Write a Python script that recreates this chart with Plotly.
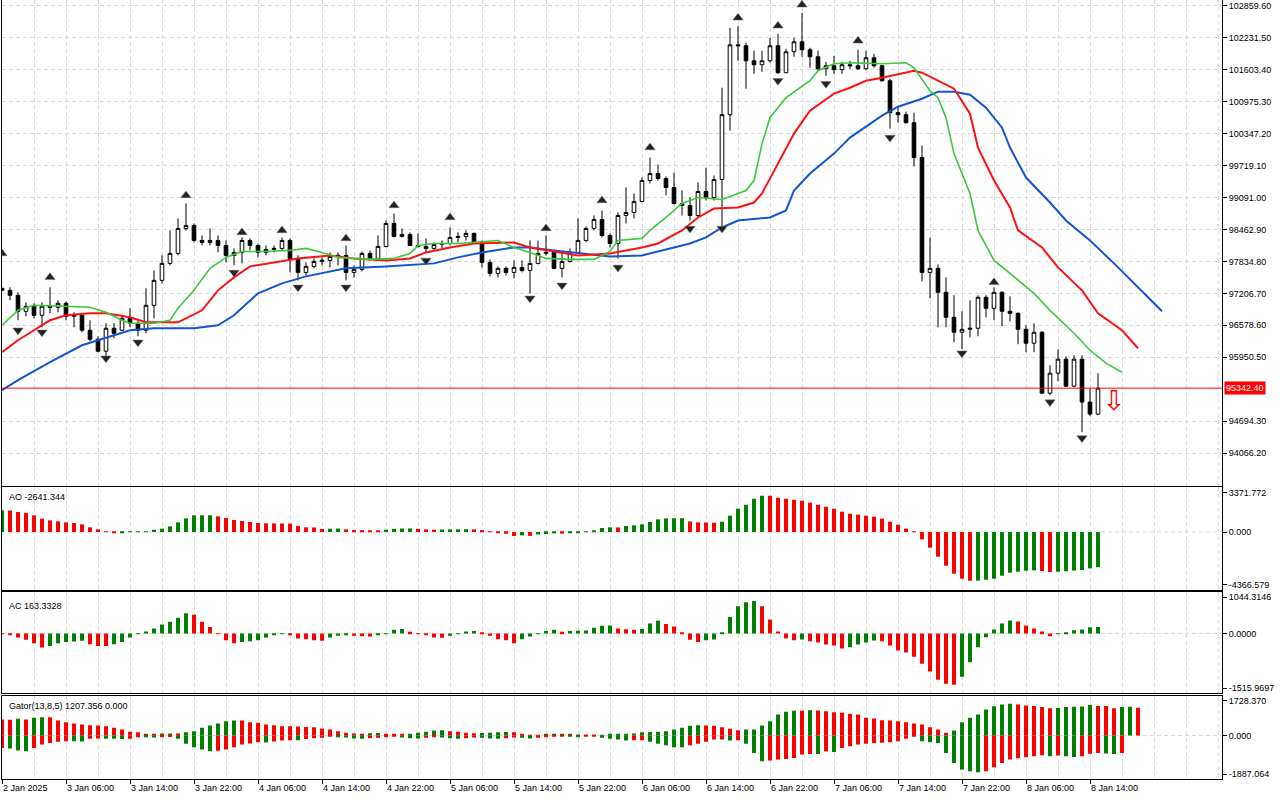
import plotly.graph_objects as go

# hourly candles, first bar = 2 Jan 22:00, last bar = 8 Jan 15:00
opens = [97305, 97266, 97168, 96854, 96952, 96775, 96952, 96932, 97011, 96756,
         96775, 96481, 96304, 96069, 96520, 96481, 96716, 96618, 96481, 96972,
         97462, 97796, 97992, 98483, 98542, 98247, 98208, 98247, 98149, 97953,
         98012, 98247, 98149, 98012, 98071, 98090, 98247, 97894, 97619, 97737,
         97835, 97855, 97933, 97953, 97619, 97678, 97992, 97894, 98129, 98581,
         98326, 98365, 98149, 98129, 98090, 98169, 98188, 98306, 98326, 98385,
         98208, 97815, 97600, 97698, 97619, 97717, 97658, 97796, 97992, 98012,
         97698, 97835, 98012, 98247, 98483, 98659, 98345, 98188, 98738, 98797,
         99013, 99425, 99562, 99464, 99288, 98974, 98934, 98738, 99209, 99091,
         99445, 100720, 102094, 102075, 101780, 101702, 101780, 102075, 101545, 101957,
         102153, 101996, 101859, 101623, 101682, 101604, 101702, 101682, 101623, 101839,
         101682, 101388, 100760, 100720, 100563, 99876, 97619, 97698, 97227, 96736,
         96442, 96500, 96520, 97129, 96913, 97227, 96854, 96814, 96500, 96226,
         96442, 95244, 95637, 95912, 95382, 95912, 95068, 94832]
highs = [97325, 97325, 97227, 97030, 97011, 97030, 97325, 97070, 97050, 96834,
         96814, 96677, 96363, 96618, 96618, 96756, 96913, 96677, 97305, 97658,
         97953, 98444, 98679, 98974, 98581, 98345, 98483, 98345, 98247, 98090,
         98306, 98287, 98188, 98149, 98149, 98306, 98287, 97953, 97815, 97894,
         97914, 98012, 98012, 98149, 97757, 98031, 98051, 98345, 98640, 98777,
         98483, 98404, 98385, 98287, 98208, 98247, 98502, 98404, 98444, 98404,
         98247, 97874, 97737, 97737, 97855, 97855, 98247, 98247, 98345, 98051,
         98012, 98090, 98679, 98522, 98738, 98836, 98385, 98797, 99288, 99170,
         99484, 99876, 99739, 99504, 99582, 99229, 99091, 99386, 99680, 99523,
         101250, 102428, 102467, 102134, 101977, 101977, 102232, 102310, 102016, 102232,
         102722, 102036, 101977, 101761, 101879, 101761, 101780, 101996, 101977, 101918,
         101702, 101427, 100858, 100779, 100760, 100112, 98306, 97776, 97521, 97168,
         96854, 97070, 97168, 97168, 97325, 97246, 97148, 96834, 96579, 96618,
         96461, 95794, 96108, 95970, 95990, 95990, 95342, 95637]
lows = [97246, 97070, 96677, 96756, 96716, 96540, 96814, 96834, 96677, 96540,
        96442, 96265, 96049, 95970, 96324, 96461, 96540, 96363, 96422, 96716,
        97403, 97757, 97953, 98444, 98208, 98149, 98149, 98012, 97815, 97757,
        97796, 98051, 97914, 97953, 98012, 98051, 97619, 97462, 97560, 97698,
        97757, 97717, 97757, 97462, 97521, 97639, 97855, 97874, 98110, 98306,
        98306, 98149, 98110, 98012, 98031, 98090, 98149, 98208, 98247, 98188,
        97717, 97541, 97521, 97560, 97501, 97619, 97207, 97776, 97953, 97678,
        97521, 97815, 97992, 98208, 98444, 98306, 98110, 97894, 98581, 98679,
        98993, 99366, 99425, 99131, 98954, 98738, 98640, 98699, 99032, 99032,
        98522, 100406, 101780, 101231, 101525, 101564, 101741, 101525, 101545, 101859,
        101859, 101643, 101584, 101486, 101525, 101525, 101623, 101604, 101604, 101643,
        101368, 100446, 100563, 100544, 99700, 97443, 97109, 96540, 96540, 96245,
        96108, 96343, 96363, 96736, 96677, 96559, 96657, 96206, 96049, 96049,
        95225, 95205, 95480, 95362, 95362, 94479, 94793, 94812]
closes = [97266, 97168, 96854, 96952, 96775, 96952, 96932, 97011, 96756, 96775,
          96481, 96304, 96069, 96520, 96422, 96716, 96618, 96481, 96972, 97462,
          97796, 97992, 98483, 98542, 98247, 98208, 98247, 98149, 97953, 98012,
          98247, 98149, 98012, 98071, 98090, 98247, 97894, 97619, 97737, 97835,
          97855, 97933, 97953, 97619, 97678, 97992, 97894, 98129, 98581, 98326,
          98365, 98149, 98129, 98090, 98169, 98188, 98306, 98326, 98385, 98208,
          97815, 97600, 97698, 97619, 97717, 97658, 97796, 97992, 98012, 97698,
          97835, 98012, 98247, 98483, 98659, 98345, 98188, 98738, 98797, 99013,
          99425, 99562, 99464, 99288, 98974, 98934, 98738, 99209, 99091, 99445,
          100720, 102094, 102075, 101780, 101702, 101780, 102075, 101545, 101957, 102153,
          101996, 101859, 101623, 101682, 101604, 101702, 101682, 101623, 101839, 101682,
          101388, 100760, 100720, 100563, 99876, 97619, 97698, 97227, 96736, 96442,
          96500, 96520, 97129, 96913, 97227, 96854, 96814, 96500, 96226, 96442,
          95244, 95637, 95912, 95382, 95912, 95068, 94832, 95342.40]
last_price = 95342.40

# alligator lines (bar index, price); jaw/teeth/lips run past the last bar
jaw_x = [0, 2, 6, 10, 14, 16, 19, 24, 27, 29, 32, 35, 38, 43, 48, 54, 57, 60, 64, 66,
         69, 73, 76, 80, 84, 86, 88, 90, 92, 96, 98, 99, 101, 104, 106, 110, 112, 115, 117, 119,
         121, 123, 125, 126, 128, 131, 133, 136, 139, 142, 145]
jaw_y = [95303, 95499, 95853, 96186, 96383, 96481, 96520, 96520, 96579, 96775,
         97207, 97403, 97541, 97698, 97737, 97796, 97914, 98012, 98110, 98110,
         98051, 97992, 97933, 97953, 98110, 98188, 98306, 98502, 98640, 98699,
         98836, 99229, 99562, 99955, 100269, 100701, 100877, 101034, 101172, 101172,
         101113, 100858, 100465, 100073, 99484, 98993, 98640, 98247, 97796, 97325, 96854]
teeth_x = [0, 2, 4, 6, 8, 11, 13, 16, 18, 22, 25, 27, 29, 31, 34, 37, 41, 44, 48, 51,
           53, 56, 59, 62, 64, 66, 69, 72, 76, 80, 82, 85, 87, 89, 92, 94, 95, 97, 99, 101,
           104, 106, 108, 110, 114, 115, 117, 119, 121, 122, 124, 126, 127, 130, 132, 135, 137, 140, 142]
teeth_y = [96049, 96285, 96481, 96677, 96775, 96814, 96814, 96736, 96638, 96638,
           96873, 97266, 97521, 97737, 97815, 97894, 97953, 97894, 97855, 97894,
           98012, 98110, 98188, 98208, 98208, 98110, 98031, 97953, 97992, 98110,
           98188, 98444, 98699, 98875, 98895, 98993, 99170, 99759, 100348, 100799,
           101133, 101250, 101388, 101447, 101584, 101545, 101388, 101231, 100740, 100073,
           99425, 98895, 98444, 98110, 97717, 97266, 96814, 96481, 96127]
lips_x = [0, 2, 4, 8, 11, 13, 15, 16, 19, 21, 22, 24, 26, 28, 30, 33, 36, 38, 40, 42,
          46, 49, 51, 52, 54, 57, 61, 62, 64, 66, 68, 71, 74, 76, 77, 80, 81, 83, 85, 87,
          90, 91, 93, 94, 95, 96, 98, 101, 102, 104, 106, 110, 113, 114, 116, 117, 118, 119, 121, 122,
          124, 126, 128, 129, 131, 134, 136, 138, 140]
lips_y = [96579, 96873, 96972, 96952, 96932, 96834, 96677, 96618, 96618, 96677,
          96913, 97266, 97698, 97914, 98031, 98031, 98051, 98090, 98012, 97914,
          97874, 97894, 97992, 98149, 98188, 98188, 98228, 98247, 98110, 98012,
          97894, 97874, 97874, 98031, 98247, 98287, 98444, 98699, 98974, 99091,
          99052, 99111, 99229, 99425, 100151, 100661, 101054, 101388, 101584, 101722,
          101741, 101722, 101741, 101643, 101192, 101054, 100661, 99955, 99170, 98444,
          97855, 97600, 97325, 97207, 96873, 96422, 96088, 95833, 95656]

# fractal arrows
frac_up_x = [0, 6, 23, 30, 35, 43, 49, 56, 68, 75, 81, 92, 97, 100, 107, 124]
frac_up_y = [97992, 97521, 99131, 98404, 98444, 98287, 98934, 98699, 98483, 99032,
             100073, 102624, 102467, 102880, 102173, 97423]
frac_dn_x = [2, 5, 13, 17, 29, 37, 43, 53, 66, 70, 77, 86, 90, 97, 103, 111, 120, 131, 135]
frac_dn_y = [96481, 96442, 95931, 96245, 97619, 97325, 97325, 97855, 97109, 97364,
             97717, 98483, 98483, 101388, 101329, 100269, 96029, 95068, 94361]

# Awesome Oscillator
ao = [1633, 1620, 1508, 1432, 1257, 1005, 880, 804, 729, 678,
      578, 352, 201, 50, -25, -30, -10, 5, 25, 176,
      251, 427, 729, 1030, 1257, 1260, 1262, 1181, 1055, 905,
      829, 754, 678, 653, 650, 645, 640, 452, 352, 345,
      226, 251, 264, 201, 150, 145, 126, 120, 176, 240,
      265, 270, 240, 200, 176, 190, 200, 205, 215, 200,
      150, 20, -60, -130, -300, -250, -290, -180, -150, -100,
      -120, -50, -20, 10, 130, 302, 352, 345, 452, 503,
      578, 754, 955, 1030, 1035, 1040, 800, 730, 715, 700,
      780, 1231, 1759, 2061, 2513, 2739, 2730, 2588, 2513, 2438,
      2362, 2211, 2061, 1910, 1759, 1533, 1382, 1307, 1231, 1156,
      1005, 779, 553, 251, 25, -553, -1181, -1860, -2538, -3141,
      -3518, -3669, -3660, -3594, -3518, -3292, -3066, -2990, -2915, -2890,
      -2940, -3010, -2990, -2950, -2900, -2860, -2740, -2641.344]
ao_dir = ("GRRRRRRRRR" "RRRRRGGGGG" "GGGGGGGRRR" "RRRRRRRRRR" "RGGRRRRRGG"
          "GGRRRGGGGR" "RRRRRGRGGG" "RGGGGGGRGG" "GGGGGGRRRR" "GGGGGGRRRR"
          "RRRRRRRRRR" "RRRRRRRRRR" "RRGGGGGGGG" "RRGGGGGG")

# Accelerator Oscillator
ac = [-10, -30, -102, -162, -247, -357, -315, -247, -213, -205,
      -187, -272, -315, -320, -272, -213, -102, -10, 51, 128,
      230, 298, 400, 510, 476, 298, 162, -17, -170, -247,
      -213, -196, -170, -102, -34, -17, -43, -128, -145, -170,
      -187, -102, -60, -34, -60, -68, -77, -43, 3, 94,
      111, 43, -17, -43, -102, -110, -60, -17, 51, 60,
      26, -60, -145, -170, -247, -145, -77, -17, 60, 94,
      43, 60, 68, 77, 145, 196, 204, 128, 105, 94,
      111, 255, 323, 238, 179, 26, -162, -213, -170, -153,
      34, 416, 688, 790, 824, 688, 357, 51, -128, -170,
      -153, -196, -230, -281, -306, -383, -349, -281, -230, -179,
      -196, -306, -434, -485, -587, -765, -961, -1173, -1275, -1300,
      -1097, -731, -349, -94, 102, 255, 332, 306, 204, 128,
      50, -68, -10, 34, 85, 102, 160, 163.3328]
ac_dir = ("RRRRRRGGGG" "GRRRGGGGGG" "GGGGRRRRRR" "GGGGGGRRRR" "RGGGRRRGGG"
          "GRRRRRGGGG" "RRRRRGGGGG" "RGGGGGGRRR" "GGGRRRRRGG" "GGGGGRRRRR"
          "GRRRRRGGGG" "RRRRRRRRRR" "GGGGGGGRRR" "RRGGGGGG")

# Gator oscillator (upper runs 5 bars past the last candle, lower 3 bars)
gator_up = [696, 690, 725, 696, 768, 797, 790, 652, 580, 522,
            478, 450, 435, 406, 333, 261, 160, 145, 72, 43,
            87, 90, 85, 145, 188, 333, 435, 522, 623, 652,
            648, 580, 551, 478, 450, 406, 400, 390, 370, 360,
            300, 261, 188, 116, 87, 80, 100, 105, 72, 58,
            43, 72, 116, 160, 218, 225, 188, 160, 116, 101,
            110, 116, 145, 150, 140, 72, 15, 10, 58, 60,
            62, 43, 15, 5, 10, 30, 45, 60, 75, 87,
            145, 150, 160, 188, 261, 333, 420, 450, 435, 420,
            362, 290, 232, 261, 265, 435, 623, 913, 1030, 1080,
            1075, 1100, 1088, 1058, 1015, 986, 942, 913, 768, 740,
            660, 652, 623, 580, 522, 478, 362, 261, 116, 217,
            580, 768, 913, 1131, 1276, 1348, 1380, 1350, 1300, 1285,
            1241, 1182, 1190, 1241, 1250, 1260, 1329, 1285, 1280, 1182,
            1241, 1245, 1207.356]
gator_up_dir = ("RRGRGGRRRR" "RRRRRRRRRR" "GGRGGGGGGG" "RRRRRRRRRR" "RRRRRRGGRR"
                "RGGGGGRRRR" "GGGGRRRRGG" "GRRRGGGGGG" "GGGGGGGGRR" "RRRGGGGGGG"
                "RGRRRRRRRR" "RRRRRRRRRG" "GGGGGGGRRR" "RRGGGGGRRR" "GGR")
gator_dn = [-537, -565, -650, -680, -537, -390, -320, -275, -246, -250,
            -255, -145, -130, -140, -145, -150, -140, -70, -80, -90,
            -72, -60, -145, -362, -507, -609, -681, -660, -609, -507,
            -391, -348, -290, -300, -260, -215, -200, -210, -150, -120,
            -100, -58, -72, -87, -130, -145, -116, -101, -72, -58,
            -87, -116, -130, -101, -72, -87, -116, -145, -116, -87,
            -101, -130, -145, -116, -87, -101, -130, -101, -72, -58,
            -43, -58, -72, -58, -43, -100, -145, -174, -217, -210,
            -200, -275, -362, -420, -507, -510, -420, -362, -275, -174,
            -170, -217, -210, -362, -754, -1116, -1088, -1044, -1015, -971,
            -826, -797, -800, -681, -710, -536, -464, -391, -362, -319,
            -310, -290, -246, -145, -58, -246, -290, -319, -754, -1189,
            -1479, -1551, -1595, -1551, -1378, -1189, -1040, -990, -940, -895,
            -852, -895, -870, -900, -937, -895, -795, -760, -780, -800,
            -760]
gator_dn_dir = ("RGGGRRRRRG" "GRRGGGRRGG" "RRGGGGGRRR" "RRRGRRRGRR" "RRGGGGRRRR"
                "GGGRRGGGRR" "GGGRRGGRRR" "RGGRRGGGGR" "RGGGGGRRRR" "RGRGGGRRRR"
                "RRGRGRRRRR" "RRRRRGGGGG" "GGGRRRRRRR" "RGRGGRRRGG" "R")

tick_pos = [0, 8, 16, 24, 32, 40, 48, 56, 64, 72, 80, 88, 96, 104, 112, 120, 128, 136]
tick_labels = ["2 Jan 2025", "3 Jan 06:00", "3 Jan 14:00", "3 Jan 22:00", "4 Jan 06:00",
               "4 Jan 14:00", "4 Jan 22:00", "5 Jan 06:00", "5 Jan 14:00", "5 Jan 22:00",
               "6 Jan 06:00", "6 Jan 14:00", "6 Jan 22:00", "7 Jan 06:00", "7 Jan 14:00",
               "7 Jan 22:00", "8 Jan 06:00", "8 Jan 14:00"]
price_ticks = [102859.60, 102231.50, 101603.40, 100975.30, 100347.20, 99719.10, 99091.00,
               98462.90, 97834.80, 97206.70, 96578.60, 95950.50, 94694.30, 94066.20]

AO_MAX, AO_MIN = 3371.772, -4366.579
AC_MAX, AC_MIN = 1044.3146, -1515.9697
GT_MAX, GT_MIN = 1728.370, -1887.064

FONT = "Tahoma, 'Liberation Sans', Arial, sans-serif"
GRID = "#d9d9d9"
DASH = "4px,3px"
GREEN = "#008000"
RED = "#ff0000"


def dir_colors(s):
    return [GREEN if c == "G" else RED for c in s]


fig = go.Figure()

fig.add_trace(go.Candlestick(
    x=list(range(len(closes))), open=opens, high=highs, low=lows, close=closes,
    increasing=dict(line=dict(color="black", width=1), fillcolor="white"),
    decreasing=dict(line=dict(color="black", width=1), fillcolor="black"),
    whiskerwidth=0, showlegend=False, xaxis="x", yaxis="y"))

for xs, ys, col, w in [(jaw_x, jaw_y, "#1155d4", 2), (teeth_x, teeth_y, "#ff1111", 2),
                       (lips_x, lips_y, "#3cc83c", 1.6)]:
    fig.add_trace(go.Scatter(x=xs, y=ys, mode="lines", line=dict(color=col, width=w),
                             showlegend=False, hoverinfo="skip", xaxis="x", yaxis="y"))

fig.add_trace(go.Scatter(x=frac_up_x, y=frac_up_y, mode="markers",
                         marker=dict(symbol="triangle-up", size=9, color="#222222",
                                     line=dict(color="#777777", width=0.5)),
                         showlegend=False, xaxis="x", yaxis="y"))
fig.add_trace(go.Scatter(x=frac_dn_x, y=frac_dn_y, mode="markers",
                         marker=dict(symbol="triangle-down", size=9, color="#222222",
                                     line=dict(color="#777777", width=0.5)),
                         showlegend=False, xaxis="x", yaxis="y"))

# sell arrow next to the last bar
fig.add_trace(go.Scatter(x=[139], y=[95047], mode="text", text=["\u21e9"],
                         textfont=dict(color=RED, size=27, family="DejaVu Sans"),
                         showlegend=False, xaxis="x", yaxis="y"))

fig.add_trace(go.Bar(x=list(range(len(ao))), y=ao, marker=dict(color=dir_colors(ao_dir), line=dict(width=0)),
                     width=0.5, showlegend=False, xaxis="x2", yaxis="y2"))
fig.add_trace(go.Bar(x=list(range(len(ac))), y=ac, marker=dict(color=dir_colors(ac_dir), line=dict(width=0)),
                     width=0.5, showlegend=False, xaxis="x3", yaxis="y3"))
fig.add_trace(go.Bar(x=list(range(len(gator_up))), y=gator_up,
                     marker=dict(color=dir_colors(gator_up_dir), line=dict(width=0)),
                     width=0.5, showlegend=False, xaxis="x4", yaxis="y4"))
fig.add_trace(go.Bar(x=list(range(len(gator_dn))), y=gator_dn,
                     marker=dict(color=dir_colors(gator_dn_dir), line=dict(width=0)),
                     width=0.5, showlegend=False, xaxis="x4", yaxis="y4"))

tick_font = dict(family=FONT, size=9, color="black")


def x_axis(anchor, labels):
    ax = dict(anchor=anchor, domain=[0, 1], range=[0, 152.5], showline=True, linecolor="black",
              linewidth=1, mirror=True, zeroline=False, showgrid=True, gridcolor=GRID,
              griddash=DASH, tickvals=tick_pos, fixedrange=True,
              minor=dict(tickmode="linear", tick0=0, dtick=4, showgrid=True,
                         gridcolor=GRID, griddash=DASH, ticks=""))
    if labels:
        ax.update(ticktext=tick_labels, showticklabels=True, ticks="outside", ticklen=4,
                  tickcolor="black", ticklabelposition="outside right", tickfont=tick_font)
    else:
        ax.update(showticklabels=False, ticks="")
    return ax


def ind_axis(anchor, domain, lo, hi, fmt, inset):
    pad = inset * (hi - lo)
    return dict(anchor=anchor, domain=domain, range=[lo, hi], side="right",
                tickvals=[hi - pad, 0, lo + pad], ticktext=[fmt.format(hi), fmt.format(0), fmt.format(lo)],
                ticks="outside", ticklen=4, tickcolor="black", tickfont=tick_font,
                showgrid=False, zeroline=False, showline=True, linecolor="black",
                linewidth=1, mirror=True, fixedrange=True)


fig.update_layout(
    width=1280, height=800,
    margin=dict(l=2, r=58, t=0, b=21),
    paper_bgcolor="white", plot_bgcolor="white",
    barmode="overlay", boxgap=0.35, showlegend=False,
    font=dict(family=FONT, size=9, color="black"),
    xaxis=dict(x_axis("y", False), rangeslider=dict(visible=False)),
    xaxis2=x_axis("y2", False),
    xaxis3=x_axis("y3", False),
    xaxis4=x_axis("y4", True),
    yaxis=dict(anchor="x", domain=[0.3765, 1.0], range=[93424.4, 102975], side="right",
               tickvals=price_ticks, ticktext=["{:.2f}".format(v) for v in price_ticks],
               ticks="outside", ticklen=4, tickcolor="black", tickfont=tick_font,
               showgrid=True, gridcolor=GRID, griddash=DASH, zeroline=False,
               showline=True, linecolor="black", linewidth=1, mirror=True, fixedrange=True),
    yaxis2=ind_axis("x2", [0.2426, 0.3745], AO_MIN, AO_MAX, "{:.3f}", 0.05),
    yaxis3=ind_axis("x3", [0.1100, 0.2397], AC_MIN, AC_MAX, "{:.4f}", 0.05),
    yaxis4=ind_axis("x4", [0.0, 0.1069], GT_MIN, GT_MAX, "{:.3f}", 0.06),
)

shapes = [dict(type="line", xref="x domain", yref="y", x0=0, x1=1, y0=last_price, y1=last_price,
               line=dict(color=RED, width=1))]
for xr, yr in [("x2", "y2"), ("x3", "y3"), ("x4", "y4")]:
    shapes.append(dict(type="line", xref=xr + " domain", yref=yr, x0=0, x1=1, y0=0, y1=0,
                       line=dict(color=GRID, width=1, dash=DASH), layer="below"))
fig.update_layout(shapes=shapes)

annotations = [
    dict(xref="paper", yref="y", x=1, y=last_price, xanchor="left", yanchor="middle",
         text="{:.2f}".format(last_price), showarrow=False, bgcolor=RED,
         font=dict(family=FONT, size=9, color="white"), borderpad=1, xshift=2),
    dict(xref="paper", yref="paper", x=0.004, y=0.371, xanchor="left", yanchor="top",
         text="AO {:.3f}".format(ao[-1]), showarrow=False, font=tick_font),
    dict(xref="paper", yref="paper", x=0.004, y=0.2311, xanchor="left", yanchor="top",
         text="AC {:.4f}".format(ac[-1]), showarrow=False, font=tick_font),
    dict(xref="paper", yref="paper", x=0.004, y=0.1027, xanchor="left", yanchor="top",
         text="Gator(13,8,5) {:.3f} {:.3f}".format(gator_up[-1], 0.0), showarrow=False, font=tick_font),
]
fig.update_layout(annotations=annotations)

# the page's default body margin would shift the chart by 8 px
fig.write_html("out.html", config={"displayModeBar": False},
               post_script="document.body.style.margin='0px';")
